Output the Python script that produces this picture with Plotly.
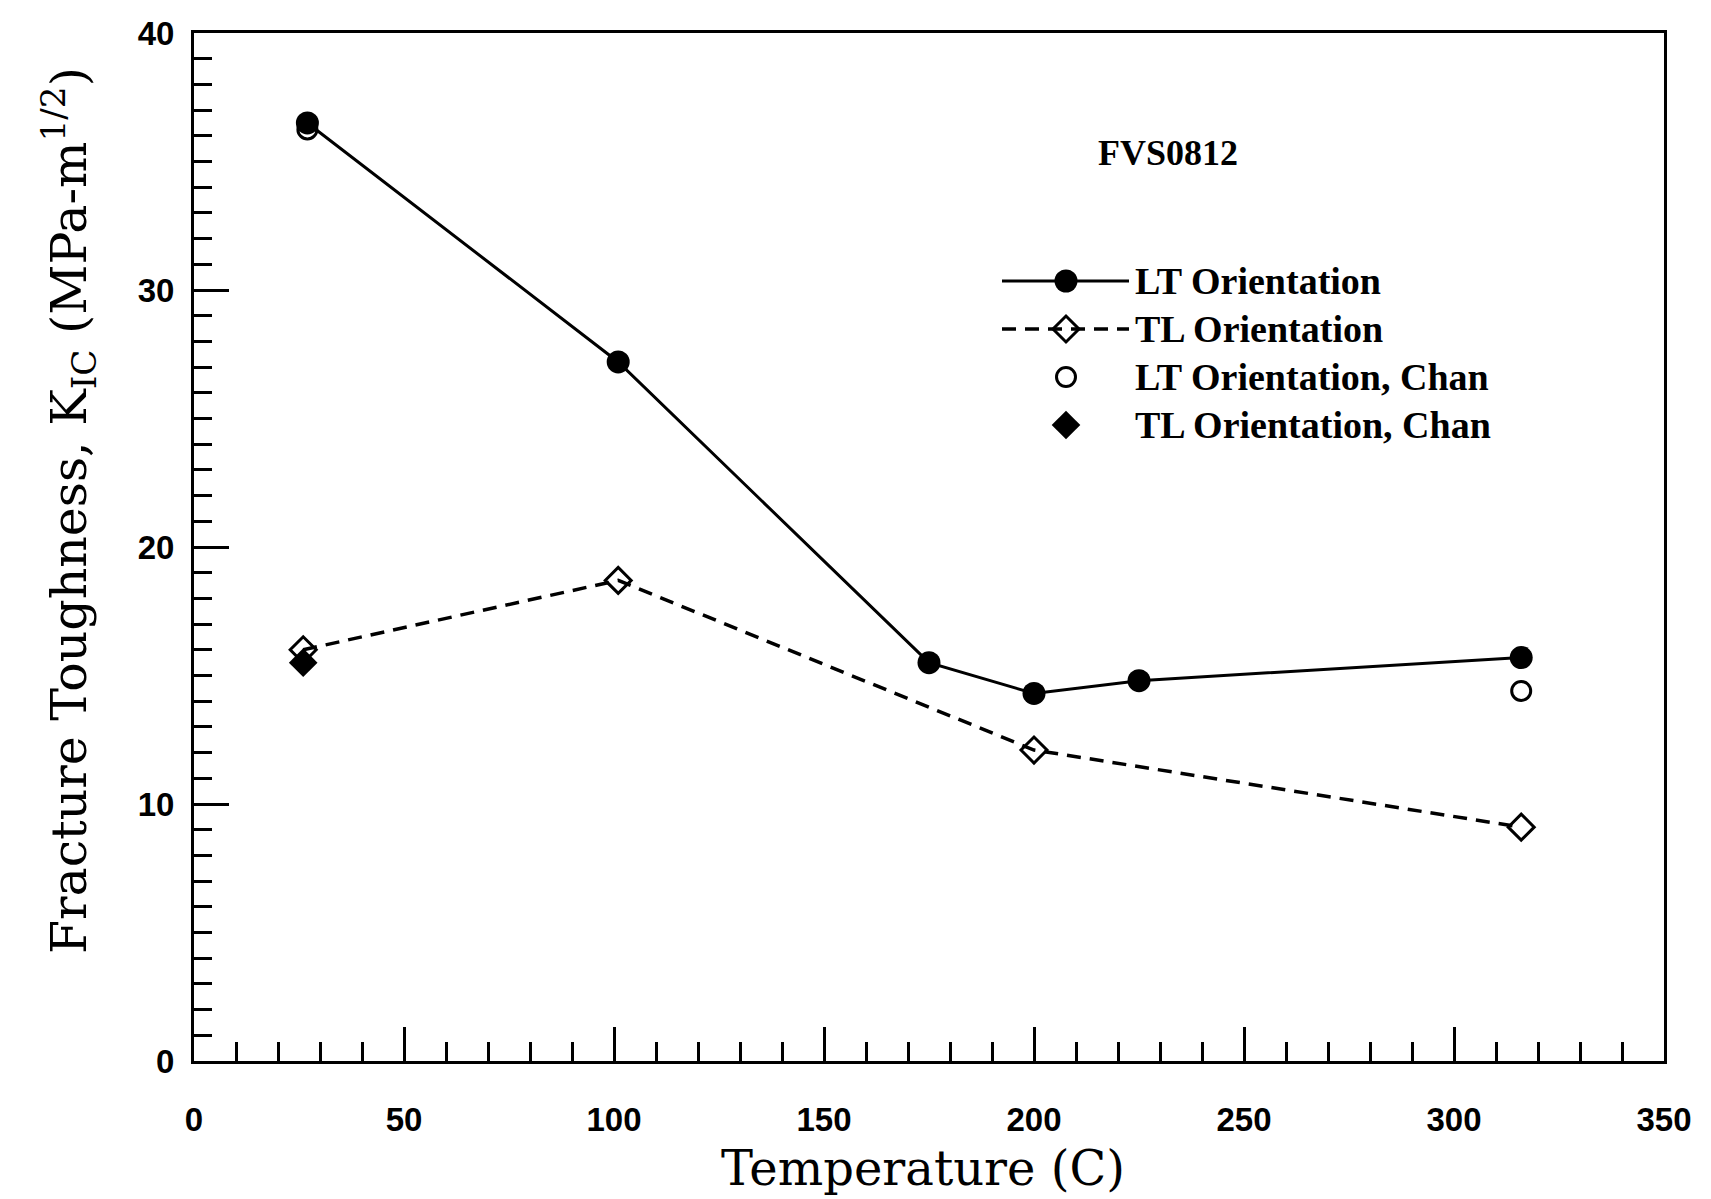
import plotly.graph_objects as go

# ---- data ----
lt_temp = [27, 101, 175, 200, 225, 316]
lt_k = [36.5, 27.2, 15.5, 14.3, 14.8, 15.7]

tl_temp = [26, 101, 200, 316]
tl_k = [16.0, 18.7, 12.1, 9.1]

chan_lt_temp = [27, 316]
chan_lt_k = [36.25, 14.4]

chan_tl_temp = [26]
chan_tl_k = [15.5]

legend_labels = ["LT Orientation", "TL Orientation",
                 "LT Orientation, Chan", "TL Orientation, Chan"]

x_ticks = [0, 50, 100, 150, 200, 250, 300, 350]
y_ticks = [0, 10, 20, 30, 40]

# ---- styling ----
BLACK = "black"
SERIF = "DejaVu Serif"
LEG_FONT = dict(family="Liberation Serif", size=38, color=BLACK, weight="bold")
TICK_FONT = dict(family="Liberation Sans", size=33, color=BLACK, weight="bold")

LT_MARK = dict(symbol="circle", size=23, color=BLACK)
TL_MARK = dict(symbol="diamond-open", size=20, color=BLACK, line=dict(width=3, color=BLACK))
CLT_MARK = dict(symbol="circle-open", size=19, color=BLACK, line=dict(width=3, color=BLACK))
CTL_MARK = dict(symbol="diamond", size=22, color=BLACK)
LT_LINE = dict(color=BLACK, width=3)
TL_LINE = dict(color=BLACK, width=3.5, dash="14px,9px")

fig = go.Figure()

# Chan data (drawn first so main markers overlap)
fig.add_trace(go.Scatter(x=chan_lt_temp, y=chan_lt_k, mode="markers",
                         marker=CLT_MARK, showlegend=False))
fig.add_trace(go.Scatter(x=chan_tl_temp, y=chan_tl_k, mode="markers",
                         marker=CTL_MARK, showlegend=False))
fig.add_trace(go.Scatter(x=tl_temp, y=tl_k, mode="lines+markers",
                         line=TL_LINE, marker=TL_MARK, showlegend=False))
fig.add_trace(go.Scatter(x=lt_temp, y=lt_k, mode="lines+markers",
                         line=LT_LINE, marker=LT_MARK, showlegend=False))

# ---- hand-drawn legend (on hidden overlay axes in 0..1 space) ----
W, H = 1711, 1199
L, R, T, B = 194, 47, 33, 138
pw, ph = W - L - R, H - T - B


def px(xp):
    return (xp - L) / pw


def py(yp):
    return (H - B - yp) / ph


leg_x0, leg_xm, leg_x1, leg_tx = px(1002), px(1066), px(1129), px(1133)
rows = [py(281), py(329), py(377), py(425)]

for yy, ln in ((rows[0], LT_LINE), (rows[1], TL_LINE)):
    fig.add_trace(go.Scatter(x=[leg_x0, leg_x1], y=[yy, yy], mode="lines",
                             xaxis="x2", yaxis="y2", line=ln,
                             showlegend=False, hoverinfo="skip"))
for yy, mk in zip(rows, (LT_MARK, TL_MARK, CLT_MARK, CTL_MARK)):
    fig.add_trace(go.Scatter(x=[leg_xm], y=[yy], mode="markers",
                             xaxis="x2", yaxis="y2", marker=mk,
                             showlegend=False, hoverinfo="skip"))

annotations = []
for lab, yy in zip(legend_labels, rows):
    annotations.append(dict(text=lab, x=leg_tx, y=yy, xref="paper", yref="paper",
                            xanchor="left", yanchor="middle", showarrow=False,
                            font=LEG_FONT))

annotations.append(dict(text="FVS0812", x=px(1168), y=py(153), xref="paper", yref="paper",
                        xanchor="center", yanchor="middle", showarrow=False,
                        font=dict(family="Liberation Serif", size=36, color=BLACK,
                                  weight="bold")))

annotations.append(dict(text="Fracture Toughness, K<sub>IC</sub> (MPa-m<sup>1/2</sup>)",
                        x=px(68), y=py(511), xref="paper", yref="paper",
                        xanchor="center", yanchor="middle", textangle=-90,
                        showarrow=False,
                        font=dict(family=SERIF, size=49, color=BLACK)))
annotations.append(dict(text="Temperature (C)", x=px(923), y=py(1168),
                        xref="paper", yref="paper", xanchor="center",
                        yanchor="middle", showarrow=False,
                        font=dict(family=SERIF, size=48, color=BLACK)))

fig.update_layout(
    width=W, height=H,
    margin=dict(l=L, r=R, t=T, b=B),
    paper_bgcolor="white", plot_bgcolor="white",
    showlegend=False,
    annotations=annotations,
    xaxis=dict(range=[0, 350], tickvals=x_ticks, ticks="inside", ticklen=34,
               tickwidth=3, tickcolor=BLACK, showline=True, linewidth=3,
               linecolor=BLACK, mirror=True, showgrid=False, zeroline=False,
               tickfont=TICK_FONT, ticklabelstandoff=27,
               minor=dict(dtick=10, ticks="inside", ticklen=19, tickwidth=3,
                          tickcolor=BLACK, showgrid=False)),
    yaxis=dict(range=[0, 40], tickvals=y_ticks, ticks="inside", ticklen=35,
               tickwidth=3, tickcolor=BLACK, showline=True, linewidth=3,
               linecolor=BLACK, mirror=True, showgrid=False, zeroline=False,
               tickfont=TICK_FONT, ticklabelstandoff=10,
               minor=dict(dtick=1, ticks="inside", ticklen=18, tickwidth=3,
                          tickcolor=BLACK, showgrid=False)),
    xaxis2=dict(range=[0, 1], overlaying="x", visible=False, domain=[0, 1]),
    yaxis2=dict(range=[0, 1], overlaying="y", visible=False, domain=[0, 1]),
)

fig.write_html("out.html", config={"displayModeBar": False},
               post_script="document.body.style.margin='0';")
